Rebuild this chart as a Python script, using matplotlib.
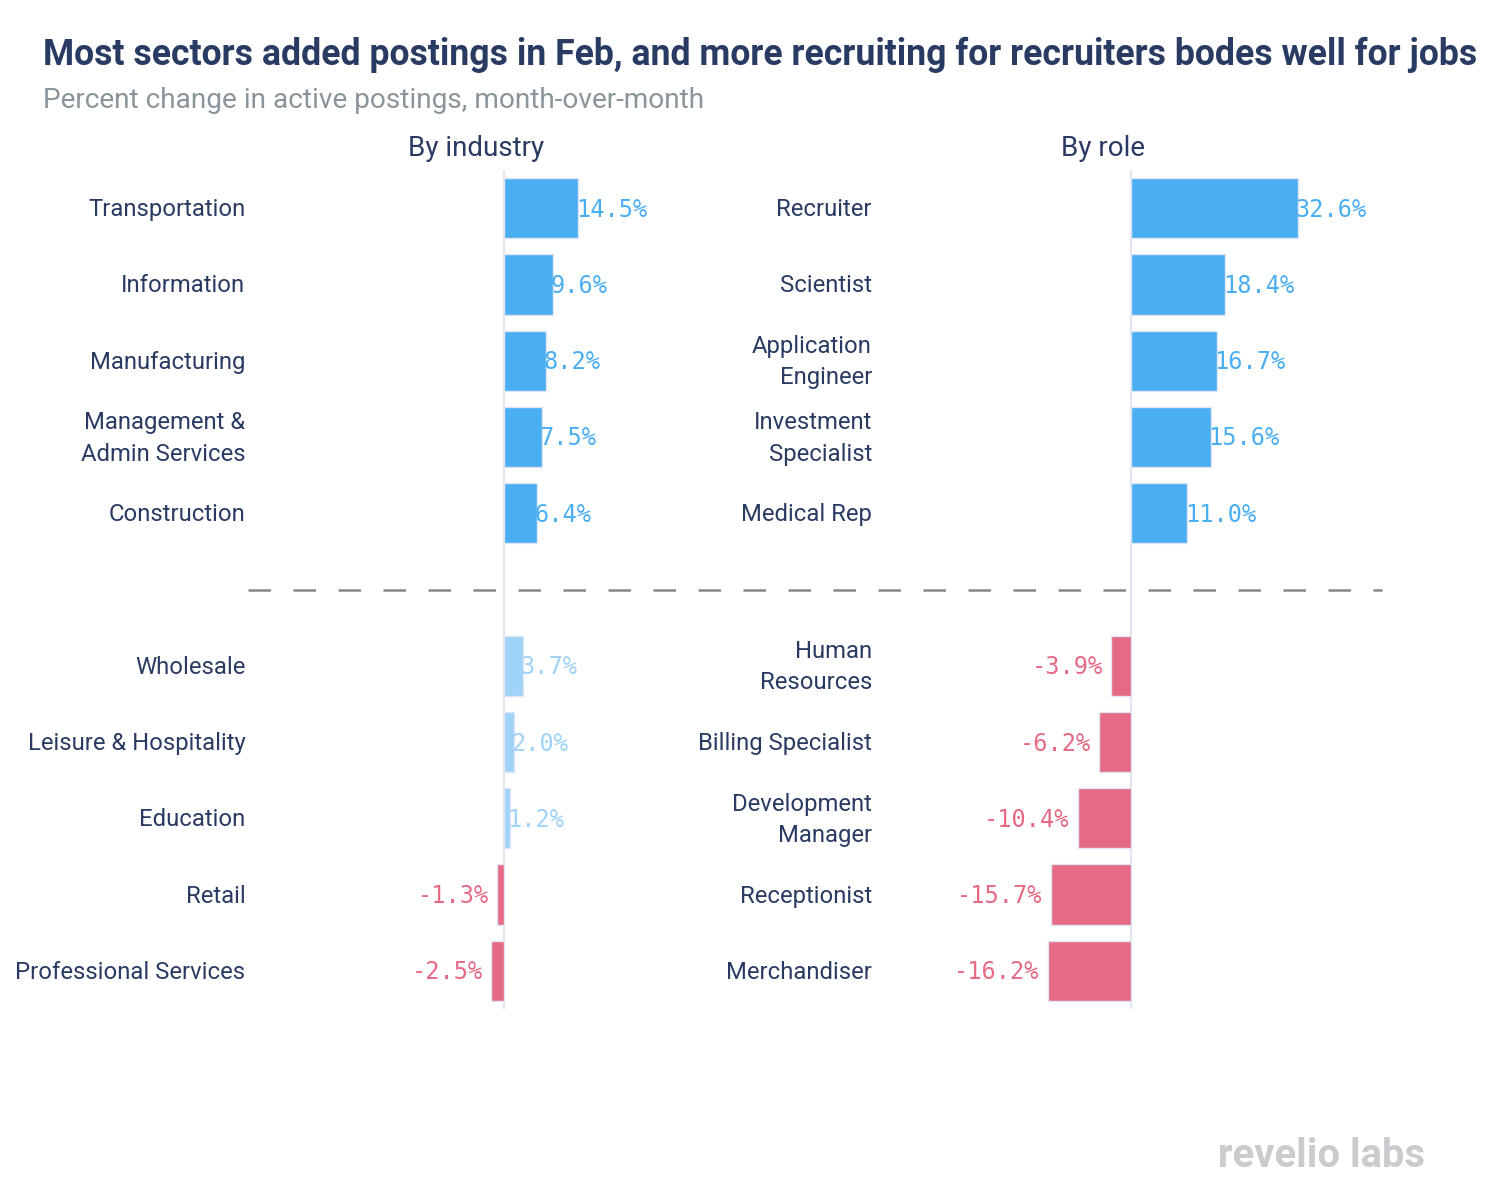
import matplotlib.pyplot as plt
import matplotlib.transforms as mtransforms
from matplotlib.lines import Line2D

# data
industries = ["Transportation", "Information", "Manufacturing", "Management &\nAdmin Services",
              "Construction", "Wholesale", "Leisure & Hospitality", "Education", "Retail",
              "Professional Services"]
industry_change = [14.5, 9.6, 8.2, 7.5, 6.4, 3.7, 2.0, 1.2, -1.3, -2.5]

roles = ["Recruiter", "Scientist", "Application\nEngineer", "Investment\nSpecialist", "Medical Rep",
         "Human\nResources", "Billing Specialist", "Development\nManager", "Receptionist",
         "Merchandiser"]
role_change = [32.6, 18.4, 16.7, 15.6, 11.0, -3.9, -6.2, -10.4, -15.7, -16.2]

# rows 0-4 top group, 6-10 bottom group (row 5 = separator)
rows = [0, 1, 2, 3, 4, 6, 7, 8, 9, 10]

NAVY = "#2a3b63"
BLUE = "#4aaef3"
LIGHT = "#9fd3f8"
RED = "#e66a86"
W, H = 1494, 1192
PX = 5.12  # pixels per percent point

plt.rcParams['font.family'] = ['Roboto', 'DejaVu Sans']

fig = plt.figure(figsize=(W / 100, H / 100), dpi=100)


def add_panel(left_px, right_px, zero_px, labels, values):
    ax = fig.add_axes([left_px / W, 1 - 1009 / H, (right_px - left_px) / W, 839 / H])
    ax.set_xlim((left_px - zero_px) / PX, (right_px - zero_px) / PX)
    ax.set_ylim(10.5, -0.5)
    cols = []
    for i, v in enumerate(values):
        if i < 5:
            cols.append(BLUE)
        elif v >= 0:
            cols.append(LIGHT)
        else:
            cols.append(RED)
    ax.barh(rows, values, height=0.79, color=cols, edgecolor="#dfe5f5", linewidth=1, zorder=2)
    ax.axvline(0, color="#e3e6f2", lw=1.5, zorder=1)
    for r, v, c in zip(rows, values, cols):
        if v >= 0:
            ax.text(v - 0.5, r + 0.02, f"{v:.1f}%", ha="left", va="center", color=c,
                    family="DejaVu Sans Mono", fontsize=17, zorder=3)
        else:
            ax.text(v - 1.6, r + 0.02, f"{v:.1f}%", ha="right", va="center", color=c,
                    family="DejaVu Sans Mono", fontsize=17, zorder=3)
    # category labels, right-aligned just left of the axes
    trans = mtransforms.blended_transform_factory(ax.transAxes, ax.transData)
    for r, lab in zip(rows, labels):
        ax.text(-0.006, r + 0.02, lab, transform=trans, ha="right", va="center",
                fontsize=17.2, color=NAVY, linespacing=1.45)
    ax.set_xticks([])
    ax.set_yticks([])
    for s in ax.spines.values():
        s.set_visible(False)
    return ax


add_panel(248, 700, 504, industries, industry_change)
add_panel(875, 1390, 1131, roles, role_change)

fig.text(43 / W, 1 - 55 / H, "Most sectors added postings in Feb, and more recruiting for recruiters bodes well for jobs",
         fontsize=25.7, fontweight="bold", color=NAVY, va="center", ha="left")
fig.text(43 / W, 1 - 100 / H, "Percent change in active postings, month-over-month",
         fontsize=20.2, color="#8a949b", va="center", ha="left")
fig.text(476 / W, 1 - 149 / H, "By industry", fontsize=20, color=NAVY, ha="center", va="center")
fig.text(1103 / W, 1 - 149 / H, "By role", fontsize=20, color=NAVY, ha="center", va="center")

# separator between gainers and losers
fig.add_artist(Line2D([248 / W, 1382 / W], [1 - 590 / H, 1 - 590 / H], transform=fig.transFigure,
                      color="#888888", lw=1.8, dashes=(9, 9)))

fig.text(1425 / W, 1 - 1156 / H, "revelio labs", fontsize=28.8, fontweight="bold",
         color="#cacbcf", ha="right", va="center")

fig.savefig("out.png", dpi=100, facecolor="white")
